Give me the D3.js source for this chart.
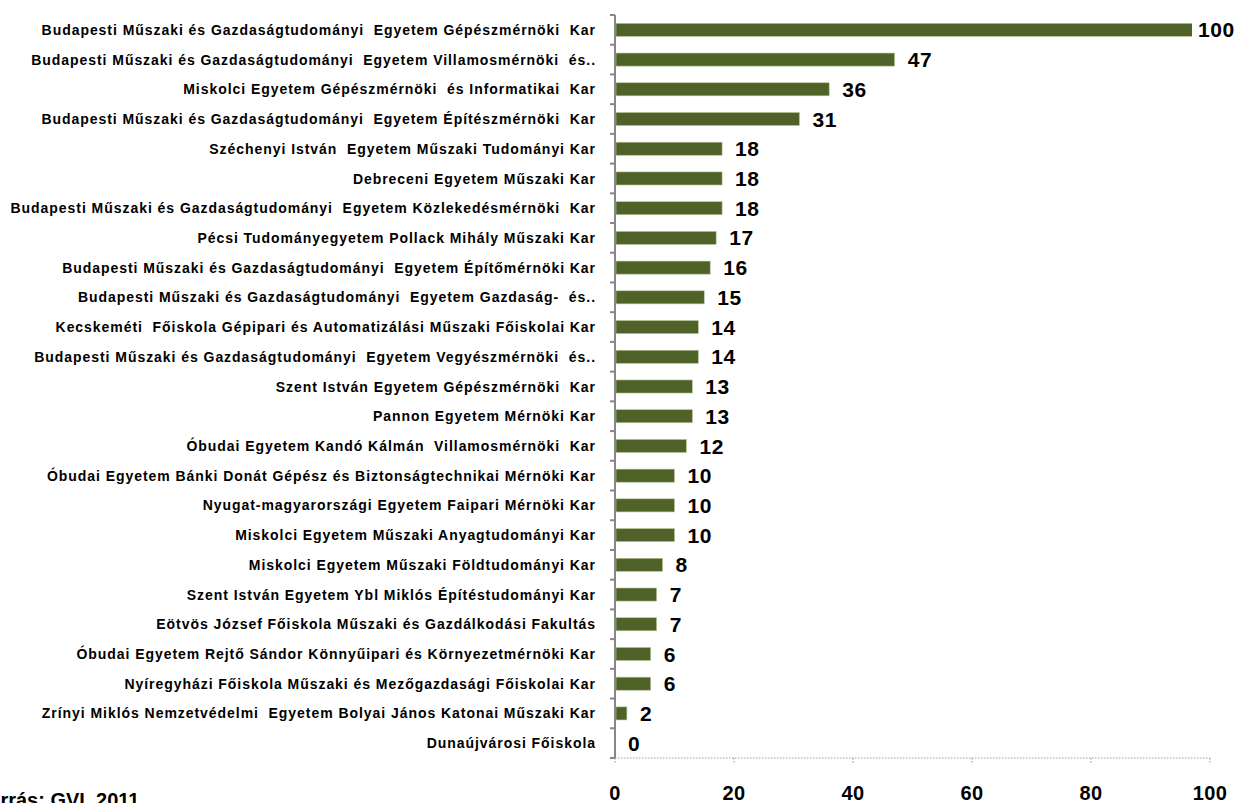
<!DOCTYPE html>
<html>
<head>
<meta charset="utf-8">
<script src="https://cdn.jsdelivr.net/npm/d3@7"></script>
<style>
  body { margin: 0; background: #fff; }
  svg { display: block; font-family: "Liberation Sans", Arial, sans-serif; }
</style>
</head>
<body>
<div id="chart"></div>
<script>
// categories, top to bottom
const categories = [
  "Budapesti Műszaki és Gazdaságtudományi  Egyetem Gépészmérnöki  Kar",
  "Budapesti Műszaki és Gazdaságtudományi  Egyetem Villamosmérnöki  és..",
  "Miskolci Egyetem Gépészmérnöki  és Informatikai  Kar",
  "Budapesti Műszaki és Gazdaságtudományi  Egyetem Építészmérnöki  Kar",
  "Széchenyi István  Egyetem Műszaki Tudományi Kar",
  "Debreceni Egyetem Műszaki Kar",
  "Budapesti Műszaki és Gazdaságtudományi  Egyetem Közlekedésmérnöki  Kar",
  "Pécsi Tudományegyetem Pollack Mihály Műszaki Kar",
  "Budapesti Műszaki és Gazdaságtudományi  Egyetem Építőmérnöki Kar",
  "Budapesti Műszaki és Gazdaságtudományi  Egyetem Gazdaság-  és..",
  "Kecskeméti  Főiskola Gépipari és Automatizálási Műszaki Főiskolai Kar",
  "Budapesti Műszaki és Gazdaságtudományi  Egyetem Vegyészmérnöki  és..",
  "Szent István Egyetem Gépészmérnöki  Kar",
  "Pannon Egyetem Mérnöki Kar",
  "Óbudai Egyetem Kandó Kálmán  Villamosmérnöki  Kar",
  "Óbudai Egyetem Bánki Donát Gépész és Biztonságtechnikai Mérnöki Kar",
  "Nyugat-magyarországi Egyetem Faipari Mérnöki Kar",
  "Miskolci Egyetem Műszaki Anyagtudományi Kar",
  "Miskolci Egyetem Műszaki Földtudományi Kar",
  "Szent István Egyetem Ybl Miklós Építéstudományi Kar",
  "Eötvös József Főiskola Műszaki és Gazdálkodási Fakultás",
  "Óbudai Egyetem Rejtő Sándor Könnyűipari és Környezetmérnöki Kar",
  "Nyíregyházi Főiskola Műszaki és Mezőgazdasági Főiskolai Kar",
  "Zrínyi Miklós Nemzetvédelmi  Egyetem Bolyai János Katonai Műszaki Kar",
  "Dunaújvárosi Főiskola"
];

const values = [100, 47, 36, 31, 18, 18, 18, 17, 16, 15, 14, 14, 13, 13, 12, 10, 10, 10, 8, 7, 7, 6, 6, 2, 0];

const xTicks = [0, 20, 40, 60, 80, 100];

const sourceNote = "Forrás: GVI, 2011";

const W = 1242, H = 803;
const plot = { left: 615, right: 1210, top: 15, bottom: 758 };
// bars stop a little short of the right frame, as in the original
const barLimit = 1192;

const svg = d3.select("#chart")
  .append("svg")
  .attr("width", W)
  .attr("height", H);

const data = categories.map((c, i) => ({ name: c, value: values[i] }));

const x = d3.scaleLinear()
  .domain([0, 100])
  .range([plot.left, plot.right]);

const y = d3.scaleBand()
  .domain(categories)
  .range([plot.top, plot.bottom])
  .paddingInner(0.56)
  .paddingOuter(0.28);

svg.append("clipPath")
  .attr("id", "barclip")
  .append("rect")
  .attr("x", plot.left)
  .attr("y", 0)
  .attr("width", barLimit - plot.left)
  .attr("height", H);

// bars
svg.append("g")
  .attr("clip-path", "url(#barclip)")
  .selectAll("rect")
  .data(data)
  .join("rect")
  .attr("x", x(0) + 1)
  .attr("y", d => y(d.name))
  .attr("width", d => Math.max(0, x(d.value) - x(0) - 1))
  .attr("height", y.bandwidth())
  .attr("fill", "#4f6228")
  .attr("stroke", d => d.value > 0 ? "#b9c89c" : "none")
  .attr("stroke-width", 0.6);

// value labels, kept inside the picture
svg.append("g")
  .selectAll("text")
  .data(data)
  .join("text")
  .attr("x", d => Math.min(x(d.value), barLimit) + (x(d.value) > barLimit ? 6 : 13))
  .attr("y", d => y(d.name) + y.bandwidth() / 2)
  .attr("dy", "0.36em")
  .attr("font-size", "21px")
  .attr("font-weight", "bold")
  .attr("letter-spacing", "0.6px")
  .attr("fill", "#000")
  .text(d => d.value);

// category labels
svg.append("g")
  .selectAll("text")
  .data(data)
  .join("text")
  .attr("x", plot.left - 19)
  .attr("y", d => y(d.name) + y.bandwidth() / 2)
  .attr("dy", "0.36em")
  .attr("text-anchor", "end")
  .attr("font-size", "14px")
  .attr("font-weight", "bold")
  .attr("letter-spacing", "0.95px")
  .style("white-space", "pre")
  .attr("fill", "#000")
  .text(d => d.name);

// x axis (dotted)
const xAxis = svg.append("g");
xAxis.append("line")
  .attr("x1", x(0)).attr("x2", x(100))
  .attr("y1", plot.bottom).attr("y2", plot.bottom)
  .attr("stroke", "#a0a0a0")
  .attr("stroke-width", 1.2)
  .attr("stroke-dasharray", "1.5,1.5");

xAxis.selectAll("line.tick")
  .data(xTicks)
  .join("line")
  .attr("class", "tick")
  .attr("x1", d => x(d)).attr("x2", d => x(d))
  .attr("y1", plot.bottom).attr("y2", plot.bottom + 6)
  .attr("stroke", "#a0a0a0")
  .attr("stroke-width", 1.2)
  .attr("stroke-dasharray", "1.5,1.5");

xAxis.selectAll("text")
  .data(xTicks)
  .join("text")
  .attr("x", d => x(d))
  .attr("y", 800)
  .attr("text-anchor", "middle")
  .attr("font-size", "20px")
  .attr("font-weight", "bold")
  .attr("letter-spacing", "0.4px")
  .attr("fill", "#000")
  .text(d => d);

// y axis with ticks at band boundaries
const step = y.step();
const bounds = d3.range(categories.length + 1).map(i => plot.top + i * step);
const yAxis = svg.append("g");
yAxis.append("line")
  .attr("x1", plot.left).attr("x2", plot.left)
  .attr("y1", plot.top).attr("y2", plot.bottom)
  .attr("stroke", "#868686")
  .attr("stroke-width", 2);
yAxis.selectAll("line.tick")
  .data(bounds)
  .join("line")
  .attr("class", "tick")
  .attr("x1", plot.left - 5).attr("x2", plot.left)
  .attr("y1", d => d).attr("y2", d => d)
  .attr("stroke", "#868686")
  .attr("stroke-width", 2);

// source note, cut at the left edge like the original
svg.append("text")
  .attr("x", -24)
  .attr("y", 807)
  .attr("font-size", "20px")
  .attr("font-weight", "bold")
  .attr("fill", "#000")
  .text(sourceNote);
</script>
</body>
</html>
